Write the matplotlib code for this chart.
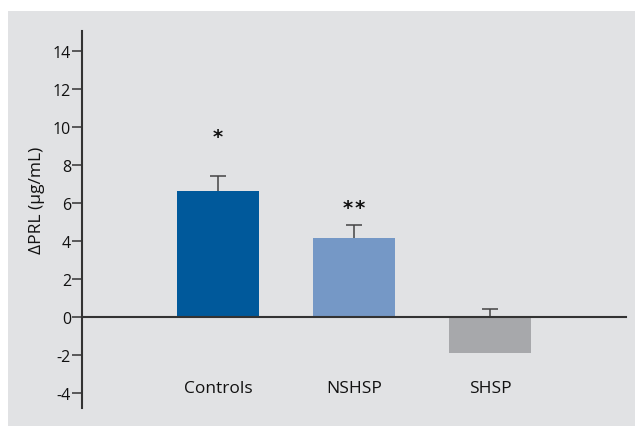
import matplotlib
matplotlib.use("Agg")
import matplotlib.pyplot as plt
from matplotlib.patches import Rectangle

categories = ["Controls", "NSHSP", "SHSP"]
values = [6.64, 4.17, -1.86]
err_base = [6.64, 4.17, 0.0]
err_upper = [0.81, 0.67, 0.42]
signif = ["*", "*\u200a*", ""]
signif_y = [9.5, 5.75, 0]
yticks = [-4, -2, 0, 2, 4, 6, 8, 10, 12, 14]
colors = ["#00599b", "#7598c6", "#a7a8ab"]

plt.rcParams['font.family'] = ['Open Sans', 'DejaVu Sans']

fig = plt.figure(figsize=(6.35, 4.27), dpi=100)
fig.patch.set_facecolor("white")
bg = Rectangle((8/635, 0), 1 - 8/635, 1 - 12/427, transform=fig.transFigure,
               facecolor="#e1e2e4", edgecolor="none", zorder=-10)
fig.add_artist(bg)

ax = fig.add_axes([82/635, 1 - 409/427, (626-82)/635, (409-32)/427])
ax.set_zorder(5)
ax.set_facecolor("none")
x = list(range(len(categories)))
ax.bar(x, values, width=0.6, color=colors, zorder=2)
tops = [b + e for b, e in zip(err_base, err_upper)]
ax.vlines(x, err_base, tops, color="#444444", lw=1.1, zorder=3)
ax.plot(x, tops, linestyle="none", marker="_", markersize=12, markeredgewidth=1.1,
        color="#444444", zorder=3)
for xi, s, sy in zip(x, signif, signif_y):
    if s:
        ax.text(xi, sy, s, ha="center", va="center", fontsize=14, fontweight="bold",
                color="#111111", family="DejaVu Sans")
for xi, c in zip(x, categories):
    ax.text(xi, -3.73, c, ha="center", va="center", fontsize=12.5, color="#111111")

ax.set_xlim(-1, 3)
ax.set_ylim(-4.77, 15.05)
ax.set_yticks(yticks)
ax.set_yticklabels([str(t) for t in yticks], fontsize=11.5, color="#111111")
ax.tick_params(axis="y", direction="out", length=7, width=1.1, color="#333333", pad=1)
ax.set_xticks([])
for s in ["top", "right"]:
    ax.spines[s].set_visible(False)
ax.spines["bottom"].set_position(("data", 0))
ax.spines["bottom"].set_color("#333333")
ax.spines["bottom"].set_linewidth(1.5)
ax.spines["bottom"].set_zorder(4)
ax.spines["left"].set_color("#333333")
ax.spines["left"].set_linewidth(1.5)
ax.set_ylabel("ΔPRL (µg/mL)", fontsize=12.5, color="#111111")
ax.yaxis.set_label_coords(-0.068, 0.554, transform=ax.transAxes)

fig.savefig("out.png", dpi=100, facecolor=fig.get_facecolor())
